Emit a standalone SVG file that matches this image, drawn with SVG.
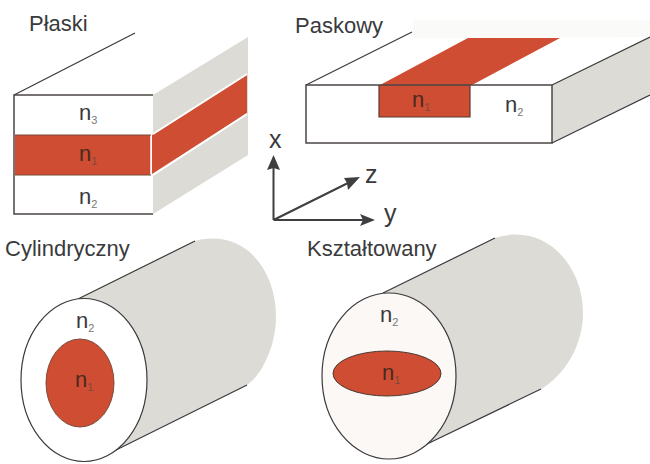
<svg xmlns="http://www.w3.org/2000/svg" width="650" height="464" viewBox="0 0 650 464">
<style>
text{font-family:"Liberation Sans",Arial,sans-serif;fill:#3a3a3c}
.t{font-size:22px}
.ax{font-size:25px}
.n{font-size:22px}
.s{font-size:11px;fill:#77777a}
.r .n{fill:#4a2a20}
.r .s{fill:#7a4a3a}
.g{fill:#dddbd6}
.red{fill:#cf4d33}
.l{fill:none;stroke:#3a3a3c;stroke-width:1.2}
.b{stroke:#4a4644;stroke-width:1.5}
.a{fill:none;stroke:#3f3f42;stroke-width:2}
.h{fill:#3f3f42}
</style>
<rect width="650" height="464" fill="#fff"/>
<g id="plaski">
<polygon class="g" points="153,95 248,37 248,155 153,214"/>
<polygon class="red" points="152,135 247,75 247,113 152,174"/>
<path d="M153,134 L247,74 M153,175 L247,114" fill="none" stroke="#fff" stroke-width="2"/>
<rect x="15" y="135" width="136" height="40" class="red"/>
<path d="M151,135V175" stroke="#fff" stroke-width="1.5"/>
<path d="M14,95 L135,33" class="l"/>
<path d="M153,95H14V214H153" fill="none" class="b"/>
<path d="M15,135H151M15,175H151" fill="none" stroke="#7a4a3a" stroke-width="1"/>
<text class="t" x="29" y="31">Płaski</text>
<text class="n" x="79" y="120">n<tspan class="s" dy="4">3</tspan></text>
<text class="r" x="79" y="161"><tspan class="n">n</tspan><tspan class="s" dy="4">1</tspan></text>
<text class="n" x="79" y="204">n<tspan class="s" dy="4">2</tspan></text>
</g>
<g id="paskowy">
<polygon points="413,20 650,20 650,37 468,38 413,38" fill="#fafaf8"/>
<polygon class="g" points="552,85 650,37 650,95 552,143"/>
<polygon class="red" points="380,85 468,38 560,38 472,85"/>
<rect x="379" y="85" width="91" height="32" class="red"/>
<path d="M306,85 L412,32 M552,85 L650,37 M552,143 L650,95" class="l"/>
<rect x="306" y="85" width="246" height="58" fill="none" class="b"/>
<path d="M379,85V117H470V85" fill="none" stroke="#5a3a30" stroke-width="1.2"/>
<text class="t" x="295" y="33">Paskowy</text>
<text class="r" x="412" y="107"><tspan class="n">n</tspan><tspan class="s" dy="4">1</tspan></text>
<text class="n" x="505" y="112">n<tspan class="s" dy="4">2</tspan></text>
</g>
<g id="axes">
<path class="a" d="M273.500,220V166M273.500,220H368M273.500,220L352,181"/>
<polygon class="h" points="273.500,155 280,170 273.500,168 267,170"/>
<polygon class="h" points="375,220 360,214 363,220 360,226"/>
<polygon class="h" points="360,177 348,190 347,183 344,178"/>
<text class="ax" x="269" y="148">x</text>
<text class="ax" x="365" y="183">z</text>
<text class="ax" x="384" y="222">y</text>
</g>
<g id="cylindryczny">
<path class="g" d="M78,299 L195,241 C245,228 276,270 276,317 C276,345 262,375 247,385 L112,452 Z"/>
<path d="M78,299 L195,241 M247,385 L112,452" class="l"/>
<ellipse cx="84" cy="380" rx="63" ry="81.500" fill="#fff" stroke="#3a3a3c" stroke-width="1.2"/>
<ellipse cx="80" cy="383" rx="34" ry="44" class="red" stroke="#7a4a3a" stroke-width="1"/>
<text class="t" x="5" y="256">Cylindryczny</text>
<text class="n" x="76" y="328">n<tspan class="s" dy="4">2</tspan></text>
<text class="r" x="75" y="387"><tspan class="n">n</tspan><tspan class="s" dy="4">1</tspan></text>
</g>
<g id="ksztaltowany">
<path class="g" d="M383,293 L495,238 C545,222 583,265 583,313 C583,345 565,375 541,389 L425,445 Z"/>
<path d="M383,293 L495,238 M541,389 L425,445" class="l"/>
<ellipse cx="389" cy="376" rx="67" ry="83" fill="#fbf8f6" stroke="#3a3a3c" stroke-width="1.2"/>
<ellipse cx="387" cy="373.500" rx="54" ry="22.500" class="red" stroke="#4a3a34" stroke-width="1"/>
<text class="t" x="307" y="256">Kształtowany</text>
<text class="n" x="380" y="322">n<tspan class="s" dy="4">2</tspan></text>
<text class="r" x="382" y="380"><tspan class="n">n</tspan><tspan class="s" dy="4">1</tspan></text>
</g>
</svg>
